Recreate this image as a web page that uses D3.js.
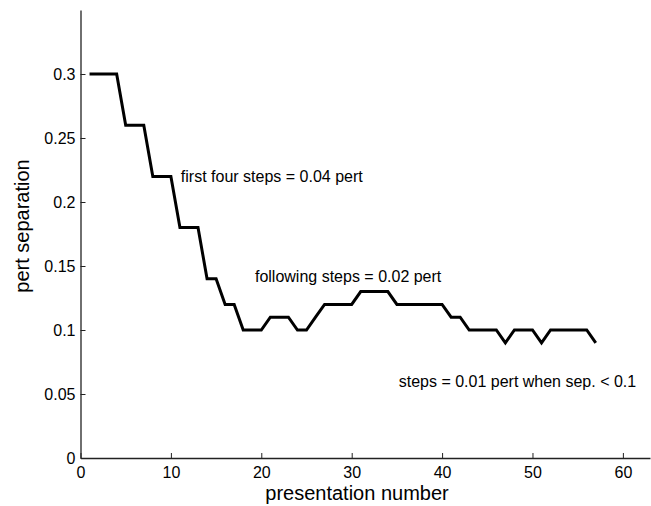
<!DOCTYPE html>
<html>
<head>
<meta charset="utf-8">
<script src="https://cdn.jsdelivr.net/npm/d3@7"></script>
<style>
  html, body { margin: 0; padding: 0; background: #fff; }
  svg { display: block; }
  text { font-family: "Liberation Sans", Arial, Helvetica, sans-serif; fill: #000; }
</style>
</head>
<body>
<svg id="chart" width="651" height="506"></svg>
<script>
// ---- data ----
const presentation = [1,2,3,4,5,6,7,8,9,10,11,12,13,14,15,16,17,18,19,20,21,22,23,24,25,26,27,28,29,30,31,32,33,34,35,36,37,38,39,40,41,42,43,44,45,46,47,48,49,50,51,52,53,54,55,56,57];
const separation = [0.30,0.30,0.30,0.30,0.26,0.26,0.26,0.22,0.22,0.22,0.18,0.18,0.18,0.14,0.14,0.12,0.12,0.10,0.10,0.10,0.11,0.11,0.11,0.10,0.10,0.11,0.12,0.12,0.12,0.12,0.13,0.13,0.13,0.13,0.12,0.12,0.12,0.12,0.12,0.12,0.11,0.11,0.10,0.10,0.10,0.10,0.09,0.10,0.10,0.10,0.09,0.10,0.10,0.10,0.10,0.10,0.09];
const xTicks = [0,10,20,30,40,50,60];
const yTicks = [0,0.05,0.1,0.15,0.2,0.25,0.3];
const annotationTexts = ["first four steps = 0.04 pert", "following steps = 0.02 pert", "steps = 0.01 pert when sep. < 0.1"];
const annotationX = [11.1, 19.3, 35.2];
const annotationY = [0.22, 0.1417, 0.0596];
const xLabel = "presentation number";
const yLabel = "pert separation";

// ---- layout ----
const svg = d3.select("#chart");
const x = d3.scaleLinear().domain([0, 63]).range([80.5, 650]);
const y = d3.scaleLinear().domain([0, 0.35]).range([458, 10]);

// axes (MATLAB style, ticks inside)
const xAxis = d3.axisBottom(x).tickValues(xTicks).tickFormat(d3.format("d")).tickSizeInner(-5).tickSizeOuter(0).tickPadding(8);
const yAxis = d3.axisLeft(y).tickValues(yTicks).tickFormat(d => d === 0 ? "0" : String(+d.toFixed(2))).tickSizeInner(-5).tickSizeOuter(0).tickPadding(5);

const gx = svg.append("g").attr("transform", `translate(0,${y(0)})`).call(xAxis);
const gy = svg.append("g").attr("transform", `translate(${x(0)},0)`).call(yAxis);
[gx, gy].forEach(g => {
  g.select(".domain").attr("stroke", "#222").attr("stroke-width", 1.3);
  g.selectAll(".tick line").attr("stroke", "#222").attr("stroke-width", 1);
  g.selectAll(".tick text").style("font-size", "16px").attr("fill", "#000");
});
gx.selectAll(".tick text").attr("dy", "0.72em");

// axis labels
svg.append("text")
  .attr("x", 357)
  .attr("y", 500)
  .attr("text-anchor", "middle")
  .style("font-size", "20px")
  .text(xLabel);
svg.append("text")
  .attr("transform", `translate(29,226) rotate(-90)`)
  .attr("text-anchor", "middle")
  .style("font-size", "20px")
  .text(yLabel);

// line
const pts = presentation.map((p, i) => [p, separation[i]]);
svg.append("path")
  .datum(pts)
  .attr("fill", "none")
  .attr("stroke", "#000")
  .attr("stroke-width", 3)
  .attr("stroke-linejoin", "miter")
  .attr("d", d3.line().x(d => x(d[0])).y(d => y(d[1])));

// annotations
annotationTexts.forEach((t, i) => {
  svg.append("text")
    .attr("x", x(annotationX[i]))
    .attr("y", y(annotationY[i]))
    .attr("dy", "0.35em")
    .style("font-size", "16px")
    .text(t);
});
</script>
</body>
</html>
